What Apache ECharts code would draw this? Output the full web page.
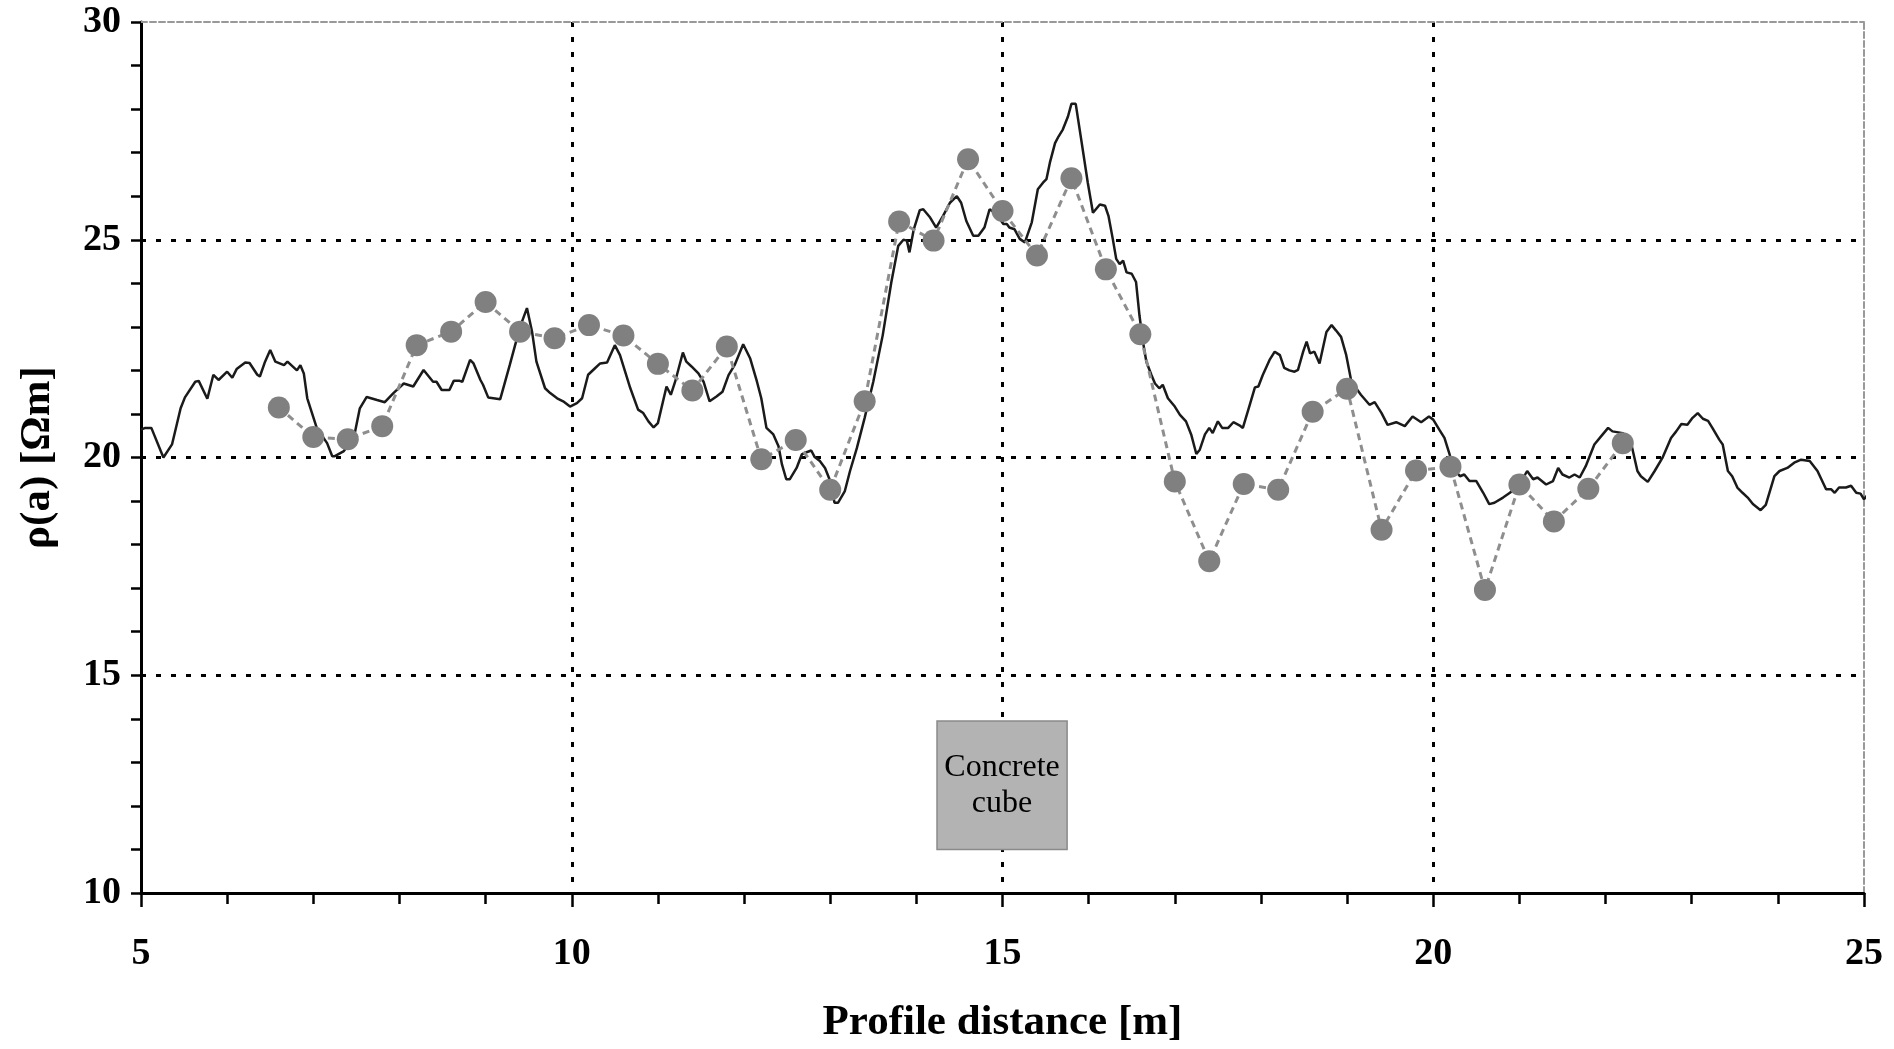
<!DOCTYPE html>
<html>
<head>
<meta charset="utf-8">
<script src="https://cdn.jsdelivr.net/npm/echarts@6/dist/echarts.min.js"></script>
<style>
 body{margin:0;background:#fff;}
 #main{width:1894px;height:1049px;}
</style>
</head>
<body>
<div id="main"></div>
<script>
// continuous profile (black line)
var lineX = [5.00,5.05,5.12,5.26,5.36,5.46,5.51,5.63,5.67,5.77,5.84,5.90,6.00,6.06,6.11,6.21,6.26,6.35,6.38,6.44,6.50,6.56,6.66,6.70,6.81,6.85,6.89,6.93,7.04,7.16,7.22,7.25,7.35,7.47,7.54,7.62,7.74,7.83,7.93,8.05,8.16,8.28,
 8.39,8.43,8.49,8.58,8.63,8.70,8.73,8.82,8.86,8.94,8.97,9.03,9.17,9.28,9.40,9.48,9.54,9.59,9.69,9.75,9.83,9.90,9.98,10.06,10.12,10.19,10.27,10.33,10.41,10.50,10.56,10.68,10.77,10.83,10.89,10.95,11.00,11.10,11.15,11.20,11.29,11.33,11.39,11.47,11.53,11.60,
 11.68,11.75,11.82,11.89,11.99,12.07,12.15,12.20,12.26,12.34,12.40,12.44,12.49,12.53,12.61,12.67,12.71,12.78,12.82,12.88,12.94,13.00,13.05,13.09,13.17,13.23,13.31,13.40,13.50,13.61,13.71,13.79,13.85,13.89,13.92,13.97,14.04,14.08,14.16,14.23,14.31,14.39,14.47,14.52,14.58,14.66,14.72,14.79,14.85,14.93,15.01,
 15.05,15.08,15.14,15.20,15.26,15.34,15.41,15.47,15.51,15.55,15.61,15.65,15.70,15.76,15.80,15.85,15.92,15.99,16.05,16.13,16.19,16.23,16.28,16.32,16.36,16.40,16.44,16.50,16.55,16.59,16.63,16.67,16.73,16.77,16.82,16.86,16.92,17.00,17.06,17.13,17.19,17.25,17.29,17.35,17.40,17.44,17.50,17.55,17.62,17.68,17.75,17.79,17.87,17.93,17.97,18.02,18.10,18.16,18.22,18.27,18.33,18.39,
 18.43,18.49,18.53,18.57,18.62,18.68,18.76,18.82,18.87,18.93,18.99,19.05,19.16,19.26,19.32,19.40,19.47,19.57,19.67,19.76,19.86,19.95,20.00,20.07,20.13,20.19,20.23,20.31,20.36,20.42,20.50,20.58,20.65,20.71,20.81,20.89,21.00,21.09,21.16,21.21,21.31,21.39,21.45,21.50,21.58,21.64,21.70,21.77,
 21.87,21.95,22.03,22.08,22.20,22.30,22.37,22.41,22.49,22.57,22.66,22.76,22.82,22.88,22.95,23.01,23.07,23.13,23.19,23.24,23.32,23.36,23.42,23.47,23.53,23.59,23.65,23.71,23.80,23.86,23.96,24.02,24.11,24.19,24.27,24.37,24.46,24.56,24.62,24.66,24.71,24.79,24.85,24.91,24.96,25.00,25.06,25.11];
var lineY = [20.64,20.68,20.68,20.00,20.30,21.13,21.38,21.74,21.76,21.35,21.90,21.78,21.97,21.83,22.03,22.18,22.17,21.90,21.86,22.20,22.47,22.20,22.12,22.20,22.00,22.12,21.93,21.36,20.68,20.33,20.03,20.03,20.14,20.45,21.13,21.39,21.32,21.27,21.48,21.70,21.63,22.01,
 21.74,21.74,21.55,21.55,21.76,21.76,21.74,22.24,22.16,21.78,21.67,21.38,21.34,22.12,23.00,23.43,22.88,22.20,21.59,21.48,21.36,21.29,21.17,21.25,21.36,21.90,22.05,22.16,22.18,22.58,22.35,21.59,21.10,21.02,20.83,20.69,20.79,21.63,21.44,21.74,22.41,22.20,22.09,21.93,21.74,21.29,
 21.40,21.51,21.89,22.12,22.60,22.28,21.74,21.36,20.68,20.53,20.26,19.84,19.50,19.50,19.76,20.07,20.11,20.16,20.01,19.92,19.76,19.46,18.96,18.96,19.23,19.69,20.22,20.91,21.74,22.81,24.03,24.86,25.00,24.98,24.71,25.24,25.68,25.70,25.51,25.28,25.55,25.85,26.00,25.85,25.43,25.09,25.09,25.28,25.70,25.59,25.36,
 25.36,25.28,25.24,25.02,24.94,25.40,26.16,26.31,26.39,26.77,27.22,27.37,27.53,27.83,28.12,28.12,27.22,26.31,25.62,25.81,25.78,25.55,25.02,24.56,24.44,24.52,24.25,24.22,24.03,23.26,22.66,22.20,21.89,21.70,21.59,21.67,21.36,21.17,20.98,20.83,20.53,20.08,20.18,20.53,20.68,20.56,20.83,20.68,20.68,20.81,20.74,20.68,21.21,21.61,21.63,21.89,22.24,22.43,22.35,22.06,22.00,21.97,
 22.01,22.43,22.66,22.39,22.43,22.16,22.88,23.04,22.92,22.77,22.35,21.74,21.44,21.21,21.27,21.02,20.75,20.81,20.72,20.94,20.81,20.94,20.87,20.64,20.45,20.07,19.76,19.57,19.61,19.46,19.46,19.19,18.93,18.96,19.08,19.19,19.38,19.69,19.50,19.54,19.38,19.46,19.76,19.61,19.54,19.61,19.54,19.80,
 20.30,20.49,20.68,20.60,20.56,20.30,19.69,19.57,19.44,19.69,19.99,20.45,20.60,20.77,20.75,20.91,21.02,20.89,20.84,20.68,20.41,20.30,19.69,19.57,19.31,19.19,19.08,18.93,18.79,18.91,19.57,19.69,19.76,19.88,19.95,19.92,19.69,19.27,19.27,19.19,19.31,19.31,19.35,19.19,19.17,19.04,19.19,19.42];

// point measurements (grey dots)
var dotX = [6.6,7.0,7.4,7.8,8.2,8.6,9.0,9.4,9.8,10.2,10.6,11.0,11.4,11.8,12.2,12.6,13.0,13.4,13.8,14.2,
 14.6,15.0,15.4,15.8,16.2,16.6,17.0,17.4,17.8,18.2,18.6,19.0,19.4,19.8,20.2,20.6,21.0,21.4,21.8,22.2];
var dotY = [21.15,20.47,20.42,20.72,22.58,22.89,23.57,22.89,22.74,23.04,22.80,22.15,21.54,22.55,19.96,20.40,19.26,21.29,25.42,24.98,
 26.85,25.66,24.64,26.41,24.32,22.83,19.45,17.62,19.39,19.26,21.05,21.58,18.34,19.70,19.79,16.96,19.38,18.53,19.28,20.33];

// concrete cube: x from, x to, y from, y to
var cube = [14.24, 15.75, 11.0, 13.95];

var lineData = lineX.map(function(x,i){ return [x, lineY[i]]; });
var dotData = dotX.map(function(x,i){ return [x, dotY[i]]; });

var serif = "'Liberation Serif','DejaVu Serif',serif";
var tickFont = {fontFamily:serif, fontWeight:'bold', fontSize:38, color:'#000'};
var grid = {color:'#000', width:3, type:[5,10]};

var chart = echarts.init(document.getElementById('main'));
var option = {
 animation:false,
 backgroundColor:'#fff',
 grid:{left:141, top:22, width:1723, height:878},
 xAxis:[{
  type:'value', min:5, max:25, interval:5, position:'bottom',
  name:'Profile distance [m]', nameLocation:'middle', nameGap:108,
  nameTextStyle:{fontFamily:serif, fontWeight:'bold', fontSize:43, color:'#000'},
  axisLine:{onZero:false, lineStyle:{color:'#000', width:3}},
  axisTick:{length:14, lineStyle:{color:'#000', width:2.5}},
  minorTick:{show:true, splitNumber:5, length:11, lineStyle:{color:'#000', width:2.5}},
  axisLabel:Object.assign({margin:42}, tickFont),
  splitLine:{show:true, showMinLine:false, showMaxLine:false, lineStyle:grid}
 },{
  type:'value', min:5, max:25, position:'top',
  axisLine:{onZero:false, lineStyle:{color:'#999', width:2, type:[6,3]}},
  axisTick:{show:false}, axisLabel:{show:false}, splitLine:{show:false}
 }],
 yAxis:[{
  type:'value', min:10, max:30, interval:5, position:'left',
  name:'ρ(a) [Ωm]', nameLocation:'middle', nameGap:82, nameRotate:90,
  nameTextStyle:{fontFamily:serif, fontWeight:'bold', fontSize:43, color:'#000'},
  axisLine:{onZero:false, lineStyle:{color:'#000', width:3}},
  axisTick:{length:10, lineStyle:{color:'#000', width:2.5}},
  minorTick:{show:true, splitNumber:5, length:10, lineStyle:{color:'#000', width:2.5}},
  axisLabel:Object.assign({margin:20}, tickFont),
  splitLine:{show:true, showMinLine:false, showMaxLine:false, lineStyle:grid}
 },{
  type:'value', min:10, max:30, position:'right',
  axisLine:{onZero:false, lineStyle:{color:'#999', width:2, type:[6,3]}},
  axisTick:{show:false}, axisLabel:{show:false}, splitLine:{show:false}
 }],
 series:[{
  type:'line',
  data:lineData,
  showSymbol:false,
  clip:false,
  z:2,
  lineStyle:{color:'#1a1a1a', width:2.5},
  markArea:{
   silent:true,
   itemStyle:{color:'#b3b3b3', borderColor:'#8a8a8a', borderWidth:1.5, opacity:1},
   label:{show:true, position:'inside', formatter:'Concrete\ncube', fontFamily:serif, fontSize:32, lineHeight:36, color:'#000'},
   data:[[{xAxis:cube[0], yAxis:cube[3]}, {xAxis:cube[1], yAxis:cube[2]}]]
  }
 },{
  type:'line',
  data:dotData,
  symbol:'circle',
  symbolSize:22,
  z:3,
  itemStyle:{color:'#808080'},
  lineStyle:{color:'#8e8e8e', width:3, type:[7,5]}
 }]
};
chart.setOption(option);
</script>
</body>
</html>
